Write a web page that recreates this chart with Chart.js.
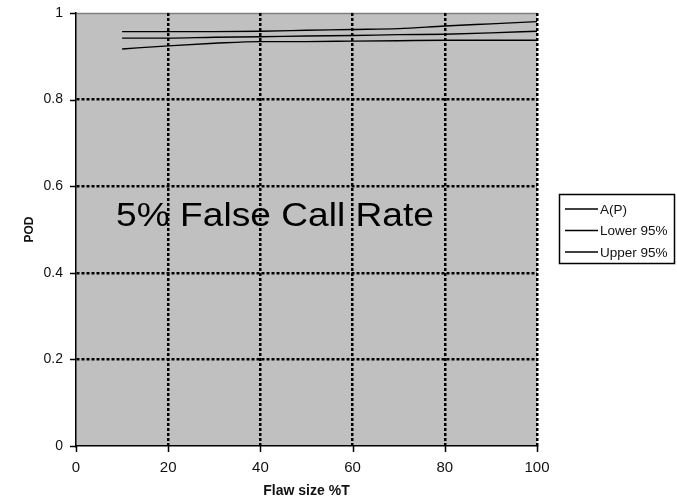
<!DOCTYPE html>
<html>
<head>
<meta charset="utf-8">
<script src="https://cdn.jsdelivr.net/npm/chart.js@4"></script>
<style>
  html, body { margin: 0; padding: 0; background: #fff; }
  #wrap { width: 677px; height: 501px; }
</style>
</head>
<body>
<div id="wrap"><canvas id="chart"></canvas></div>
<script>
// flaw sizes (%T) and POD curves
const flawSize = [10, 20, 30, 40, 50, 60, 70, 80, 90, 100];
const apValues = [0.942, 0.942, 0.944, 0.945, 0.947, 0.948, 0.950, 0.951, 0.954, 0.958];
const lowerValues = [0.917, 0.924, 0.930, 0.934, 0.934, 0.935, 0.936, 0.937, 0.937, 0.937];
const upperValues = [0.957, 0.957, 0.957, 0.958, 0.960, 0.962, 0.964, 0.970, 0.975, 0.980];
const xTicks = [0, 20, 40, 60, 80, 100];
const yTicks = [0, 0.2, 0.4, 0.6, 0.8, 1];
const seriesNames = ['A(P)', 'Lower 95%', 'Upper 95%'];

const FONT = '"Liberation Sans", Arial, sans-serif';

// gray plot background + top edge
const plotBg = {
  id: 'plotBg',
  beforeDraw(chart) {
    const { ctx, chartArea: a } = chart;
    ctx.save();
    ctx.fillStyle = '#c0c0c0';
    ctx.fillRect(a.left, a.top, a.right - a.left, a.bottom - a.top);
    ctx.strokeStyle = '#808080';
    ctx.lineWidth = 1.5;
    ctx.beginPath();
    ctx.moveTo(a.left, a.top + 0.5);
    ctx.lineTo(a.right, a.top + 0.5);
    ctx.stroke();
    ctx.restore();
  }
};

// outward tick marks, annotation and boxed legend
const extras = {
  id: 'extras',
  afterDraw(chart) {
    const { ctx, chartArea: a, scales } = chart;
    ctx.save();
    ctx.strokeStyle = '#000';
    ctx.lineWidth = 1.5;
    ctx.beginPath();
    yTicks.forEach(v => {
      const y = Math.round(scales.y.getPixelForValue(v)) + 0.5;
      ctx.moveTo(a.left - 6, y);
      ctx.lineTo(a.left, y);
    });
    xTicks.forEach(v => {
      const x = Math.round(scales.x.getPixelForValue(v)) + 0.5;
      ctx.moveTo(x, a.bottom);
      ctx.lineTo(x, a.bottom + 6);
    });
    ctx.stroke();

    // annotation (text in the original is a bit wide)
    ctx.fillStyle = '#000';
    ctx.font = '33px ' + FONT;
    ctx.textBaseline = 'alphabetic';
    ctx.textAlign = 'left';
    ctx.save();
    ctx.translate(scales.x.getPixelForValue(8.7), scales.y.getPixelForValue(0.509));
    ctx.scale(1.125, 1);
    ctx.fillText('5% False Call Rate', 0, 0);
    ctx.restore();

    // legend
    const bx = 559, by = 194, bw = 115, bh = 69;
    ctx.lineWidth = 1.5;
    ctx.strokeRect(bx + 0.5, by + 0.5, bw, bh);
    ctx.font = '13.5px ' + FONT;
    ctx.fillStyle = '#111';
    ctx.textBaseline = 'middle';
    chart.data.datasets.forEach((ds, i) => {
      const y = by + 15 + i * 21.5;
      ctx.beginPath();
      ctx.lineWidth = 1.3;
      ctx.moveTo(bx + 6, y);
      ctx.lineTo(bx + 39, y);
      ctx.stroke();
      ctx.fillText(ds.label, bx + 41, y + 1);
    });
    ctx.restore();
  }
};

const lineStyle = {
  borderColor: '#000',
  borderWidth: 1.4,
  pointRadius: 0,
  fill: false,
  cubicInterpolationMode: 'monotone'
};

new Chart(document.getElementById('chart'), {
  type: 'line',
  data: {
    datasets: [
      { label: seriesNames[0], data: flawSize.map((x, i) => ({ x, y: apValues[i] })), ...lineStyle },
      { label: seriesNames[1], data: flawSize.map((x, i) => ({ x, y: lowerValues[i] })), ...lineStyle },
      { label: seriesNames[2], data: flawSize.map((x, i) => ({ x, y: upperValues[i] })), ...lineStyle }
    ]
  },
  options: {
    responsive: true,
    maintainAspectRatio: false,
    animation: false,
    devicePixelRatio: 1,
    layout: { padding: { top: 13, right: 140, left: 0, bottom: 0 } },
    plugins: { legend: { display: false }, tooltip: { enabled: false } },
    scales: {
      x: {
        type: 'linear',
        min: 0,
        max: 100,
        afterFit(s) { s.height = 55; s.paddingLeft = 0; s.paddingRight = 0; },
        afterBuildTicks(s) { s.ticks = xTicks.map(v => ({ value: v })); },
        grid: {
          color: ctx => (ctx.tick && ctx.tick.value === 0) ? 'rgba(0,0,0,0)' : '#000',
          lineWidth: 2.5,
          drawTicks: false
        },
        border: { display: true, color: '#000', width: 1.5, dash: [3, 2] },
        ticks: { color: '#111', font: { family: FONT, size: 15 }, padding: 13 },
        title: {
          display: true,
          text: 'Flaw size %T',
          color: '#111',
          font: { family: FONT, size: 14, weight: 'bold' },
          padding: { top: 2, bottom: 1 }
        }
      },
      y: {
        min: 0,
        max: 1,
        afterFit(s) { s.width = 76; s.paddingTop = 0; s.paddingBottom = 0; },
        afterBuildTicks(s) { s.ticks = yTicks.map(v => ({ value: v })); },
        grid: {
          color: ctx => (ctx.tick && (ctx.tick.value === 0 || ctx.tick.value === 1)) ? 'rgba(0,0,0,0)' : '#000',
          lineWidth: 2.5,
          drawTicks: false
        },
        border: { display: true, color: '#000', width: 1.5, dash: [3, 2] },
        ticks: {
          color: '#111',
          font: { family: FONT, size: 14 },
          padding: 13,
          callback: v => String(v)
        },
        title: {
          display: true,
          text: 'POD',
          color: '#111',
          font: { family: FONT, size: 12, weight: 'bold' },
          padding: { top: 22, bottom: 0 }
        }
      }
    }
  },
  plugins: [plotBg, extras]
});
</script>
</body>
</html>
